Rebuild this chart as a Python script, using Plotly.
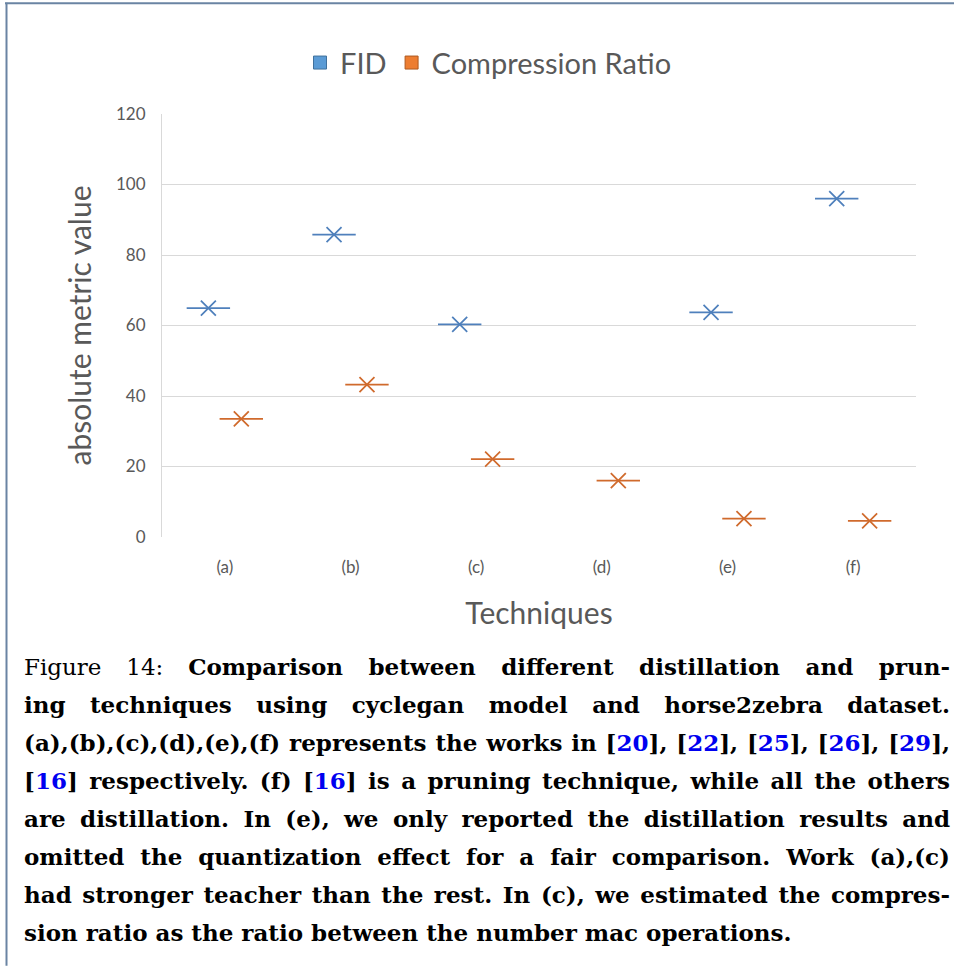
import plotly.graph_objects as go

# ---------------- data ----------------
categories = ["(a)", "(b)", "(c)", "(d)", "(e)", "(f)"]
fid_values = [64.9, 85.8, 60.3, None, 63.7, 96.0]
cr_values = [33.5, 43.2, 22.1, 16.0, 5.2, 4.6]
y_ticks = [0, 20, 40, 60, 80, 100, 120]

series_names = ["FID", "Compression Ratio"]

caption_lines = [
    "Figure 14: <b>Comparison between different distillation and prun-</b>",
    "<b>ing techniques using cyclegan model and horse2zebra dataset.</b>",
    "<b>(a),(b),(c),(d),(e),(f) represents the works in [<span style='color:#0000F0'>20</span>], "
    "[<span style='color:#0000F0'>22</span>], [<span style='color:#0000F0'>25</span>], "
    "[<span style='color:#0000F0'>26</span>], [<span style='color:#0000F0'>29</span>],</b>",
    "<b>[<span style='color:#0000F0'>16</span>] respectively. (f) [<span style='color:#0000F0'>16</span>] "
    "is a pruning technique, while all the others</b>",
    "<b>are distillation. In (e), we only reported the distillation results and</b>",
    "<b>omitted the quantization effect for a fair comparison. Work (a),(c)</b>",
    "<b>had stronger teacher than the rest. In (c), we estimated the compres-</b>",
    "<b>sion ratio as the ratio between the number mac operations.</b>",
]

# ---------------- style ----------------
W, H = 954, 966
PL, PR, PT, PB = 162, 916, 114.3, 537.3   # plot area in pixels
PW, PH = PR - PL, PB - PT

def px_x(px):
    return (px - PL) / PW

def px_y(py):
    return (PB - py) / PH

marker_colors = ["#4F80BC", "#D06A2C"]
legend_fill = ["#5B9BD5", "#ED7D31"]
legend_edge = ["#41719C", "#AE5A21"]
grey = "#595959"
grid = "#D9D9D9"

fig = go.Figure()

for name, vals, mc, lf, le in zip(series_names, [fid_values, cr_values],
                                  marker_colors, legend_fill, legend_edge):
    fig.add_trace(go.Scatter(
        x=categories, y=vals, mode="markers", offsetgroup=name,
        marker=dict(symbol="line-ew-open", size=31, color=mc,
                    line=dict(color=mc, width=1.75)),
        showlegend=False, hoverinfo="skip"))
    fig.add_trace(go.Scatter(
        x=categories, y=vals, mode="markers", offsetgroup=name, name=name,
        marker=dict(symbol="x-thin-open", size=15, color=mc,
                    line=dict(color=mc, width=1.75)),
        showlegend=False))
    fig.add_trace(go.Scatter(
        x=[None], y=[None], mode="markers", offsetgroup=name, name=name,
        marker=dict(symbol="square", size=13, color=lf,
                    line=dict(color=le, width=1)),
        showlegend=True))

annotations = []
for i, line in enumerate(caption_lines):
    annotations.append(dict(
        text=line, xref="paper", yref="paper",
        x=px_x(22), y=px_y(667 + 38 * i),
        xanchor="left", yanchor="middle", align="left", showarrow=False,
        font=dict(family="DejaVu Serif", size=23, color="black")))

shapes = [
    dict(type="line", xref="paper", yref="paper", xsizemode="pixel", ysizemode="pixel",
         xanchor=0, yanchor=1, x0=6.5 - PL, x1=6.5 - PL, y0=PT - 3, y1=PT - 966,
         line=dict(color="#6A84A3", width=2), layer="above"),
    dict(type="line", xref="paper", yref="paper", xsizemode="pixel", ysizemode="pixel",
         xanchor=0, yanchor=1, x0=5 - PL, x1=954 - PL, y0=PT - 3.5, y1=PT - 3.5,
         line=dict(color="#6A84A3", width=2), layer="above"),
]

fig.update_layout(
    width=W, height=H,
    margin=dict(l=PL, r=W - PR, t=PT, b=H - PB, autoexpand=False),
    paper_bgcolor="white", plot_bgcolor="white",
    font=dict(family="Lato", color=grey),
    scattermode="group", scattergap=0.476,
    legend=dict(orientation="h", x=px_x(300), xanchor="left",
                y=px_y(63), yanchor="middle",
                font=dict(size=29, color=grey), itemwidth=30,
                bgcolor="rgba(0,0,0,0)"),
    xaxis=dict(type="category", range=[-0.5, 5.5], showgrid=False,
               showline=False, zeroline=False, ticks="",
               tickfont=dict(size=17, color=grey), ticklabelstandoff=18,
               title=dict(text="Techniques", font=dict(size=30, color=grey),
                          standoff=26)),
    yaxis=dict(range=[0, 120], tickvals=y_ticks, showgrid=True, gridcolor=grid,
               gridwidth=1, showline=True, linecolor=grid, linewidth=1,
               zeroline=False, ticks="",
               tickfont=dict(size=17, color=grey), ticklabelstandoff=12,
               title=dict(text="absolute metric value",
                          font=dict(size=30, color=grey), standoff=15)),
    annotations=annotations,
    shapes=shapes,
    showlegend=True,
)

justify_idx = list(range(len(caption_lines) - 1))
post_script = """
document.documentElement.style.margin = '0';
document.documentElement.style.padding = '0';
document.body.style.margin = '0';
document.body.style.padding = '0';
var gd = document.querySelector('.plotly-graph-div');
var targets = %s;
var TW = %f;
gd.querySelectorAll('g.annotation').forEach(function(g){
  var idx = parseInt(g.getAttribute('data-index'));
  if (targets.indexOf(idx) < 0) return;
  var t = g.querySelector('text.annotation-text');
  if (!t) return;
  t.style.wordSpacing = '0px';
  var len = t.getComputedTextLength();
  var n = (t.textContent.match(/ /g) || []).length;
  if (n > 0) t.style.wordSpacing = ((TW - len) / n) + 'px';
});
""" % (str(justify_idx), 950 - 24)

fig.write_html("out.html", post_script=post_script,
               config={"displayModeBar": False})
